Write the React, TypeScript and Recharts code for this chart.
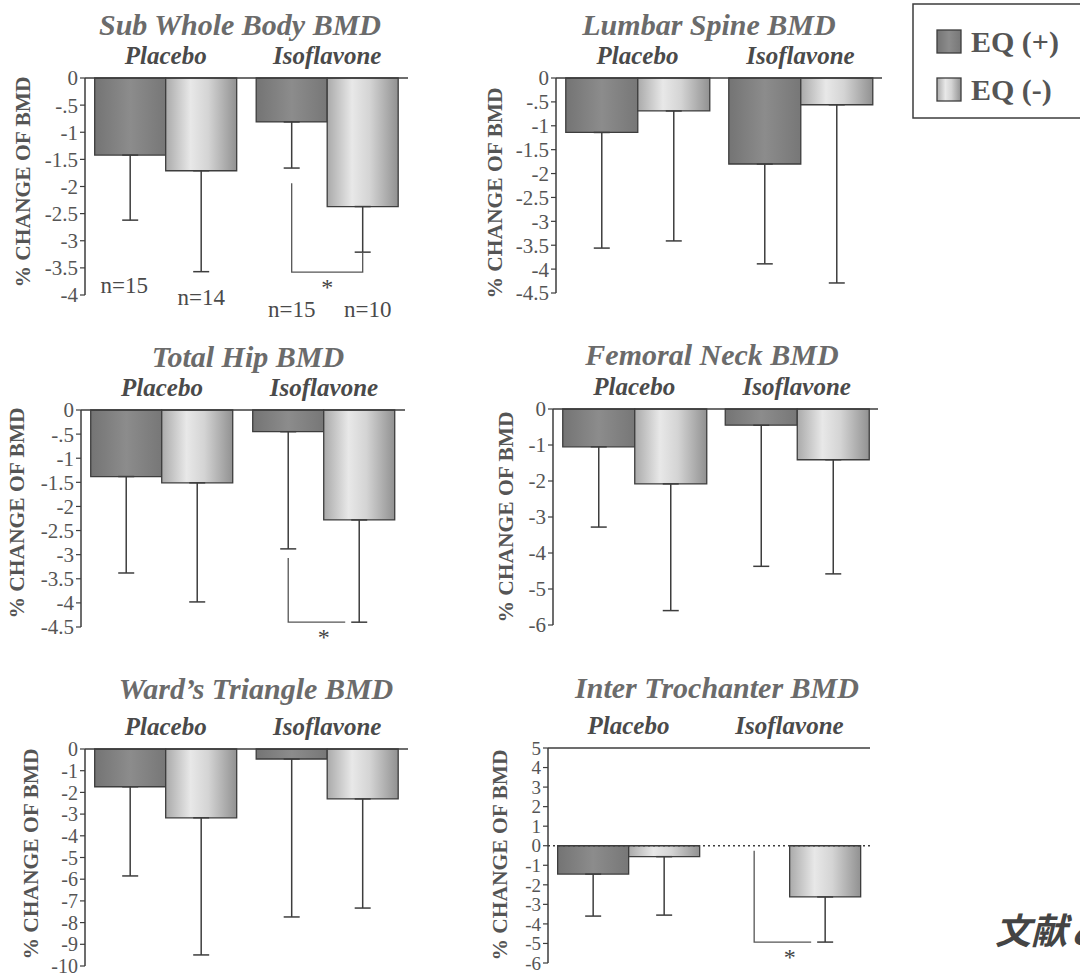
import React from "react";
import { BarChart, Bar, XAxis, YAxis, ErrorBar, ReferenceLine } from "recharts";

// groups on the x axis, two bars each: EQ (+) and EQ (-)
const GROUPS = ["Placebo", "Isoflavone"];
const SERIES = ["EQ (+)", "EQ (-)"];

// mean % change and SD (one-sided error bars), [Placebo, Isoflavone]
const wholeBodyPos = [-1.42, -0.81];
const wholeBodyNeg = [-1.71, -2.37];
const wholeBodyPosSd = [1.2, 0.85];
const wholeBodyNegSd = [1.86, 0.84];
const wholeBodyTicks = [0, -0.5, -1, -1.5, -2, -2.5, -3, -3.5, -4];
const wholeBodyN = ["n=15", "n=14", "n=15", "n=10"];

const lumbarPos = [-1.14, -1.8];
const lumbarNeg = [-0.69, -0.56];
const lumbarPosSd = [2.42, 2.09];
const lumbarNegSd = [2.72, 3.73];
const lumbarTicks = [0, -0.5, -1, -1.5, -2, -2.5, -3, -3.5, -4, -4.5];

const hipPos = [-1.38, -0.45];
const hipNeg = [-1.51, -2.28];
const hipPosSd = [2.0, 2.43];
const hipNegSd = [2.47, 2.12];
const hipTicks = [0, -0.5, -1, -1.5, -2, -2.5, -3, -3.5, -4, -4.5];

const neckPos = [-1.05, -0.45];
const neckNeg = [-2.08, -1.41];
const neckPosSd = [2.23, 3.92];
const neckNegSd = [3.52, 3.17];
const neckTicks = [0, -1, -2, -3, -4, -5, -6];

const wardPos = [-1.74, -0.46];
const wardNeg = [-3.17, -2.3];
const wardPosSd = [4.11, 7.28];
const wardNegSd = [6.32, 5.03];
const wardTicks = [0, -1, -2, -3, -4, -5, -6, -7, -8, -9, -10];

const trochPos = [-1.45, 0];
const trochNeg = [-0.56, -2.62];
const trochPosSd = [2.15, null];
const trochNegSd = [2.99, 2.31];
const trochTicks = [5, 4, 3, 2, 1, 0, -1, -2, -3, -4, -5, -6];

const INK = "#3d3d3d";
const SERIF = "'Liberation Serif', 'Times New Roman', serif";

type Bracket = { from: number; level: number; rise: number | null };
type PanelDef = {
  title: string;
  pos: number[];
  neg: number[];
  posSd: (number | null)[];
  negSd: (number | null)[];
  ticks: number[];
  bracket?: Bracket;
  nLabels?: string[];
  dotted?: boolean;
  tickFont: number;
  box: [number, number, number, number]; // plot area L T R B on the page
  titleAt: [number, number];
  labelAt: [number, number];
};

const PANELS: PanelDef[] = [
  {
    title: "Sub Whole Body BMD", pos: wholeBodyPos, neg: wholeBodyNeg, posSd: wholeBodyPosSd, negSd: wholeBodyNegSd,
    ticks: wholeBodyTicks, nLabels: wholeBodyN, bracket: { from: -1.94, level: -3.58, rise: -3.21 }, tickFont: 21,
    box: [85, 78, 408, 295], titleAt: [240, 35], labelAt: [30, 182],
  },
  {
    title: "Lumbar Spine BMD", pos: lumbarPos, neg: lumbarNeg, posSd: lumbarPosSd, negSd: lumbarNegSd,
    ticks: lumbarTicks, tickFont: 21, box: [556, 78, 882, 293], titleAt: [709, 35], labelAt: [502, 193],
  },
  {
    title: "Total Hip BMD", pos: hipPos, neg: hipNeg, posSd: hipPosSd, negSd: hipNegSd,
    ticks: hipTicks, bracket: { from: -3.07, level: -4.4, rise: null }, tickFont: 21,
    box: [81, 410, 405, 627], titleAt: [248, 367], labelAt: [24, 513],
  },
  {
    title: "Femoral Neck BMD", pos: neckPos, neg: neckNeg, posSd: neckPosSd, negSd: neckNegSd,
    ticks: neckTicks, tickFont: 21, box: [553, 409, 878, 625], titleAt: [712, 365], labelAt: [513, 517],
  },
  {
    title: "Ward\u2019s Triangle BMD", pos: wardPos, neg: wardNeg, posSd: wardPosSd, negSd: wardNegSd,
    ticks: wardTicks, tickFont: 20, box: [85, 749, 408, 966], titleAt: [256, 699], labelAt: [38, 854],
  },
  {
    title: "Inter Trochanter BMD", pos: trochPos, neg: trochNeg, posSd: trochPosSd, negSd: trochNegSd,
    ticks: trochTicks, bracket: { from: -0.26, level: -4.93, rise: null }, dotted: true, tickFont: 19,
    box: [548, 748, 870, 963], titleAt: [717, 698], labelAt: [507, 855],
  },
];

const fmtTick = (v: number) => (v === 0 ? "0" : String(v).replace("0.", "."));

function GroupTick(props: any) {
  const { x, y, payload } = props;
  return (
    <text x={x} y={y} textAnchor="middle" fontFamily={SERIF} fontWeight="bold" fontStyle="italic" fontSize={25} fill="#4a4a4a">
      {payload.value}
    </text>
  );
}

// labels drawn from each bar's geometry: n counts under the plot, significance bracket
function makeLabel(p: PanelDef, series: number, domMin: number) {
  return (props: any) => {
    const vb = props.viewBox ?? props;
    const { x, y, width, height } = vb;
    const index: number = props.index ?? 0;
    const v = series === 0 ? p.pos[index] : p.neg[index];
    if (!v || !height) return null;
    const ppu = Math.abs(height) / Math.abs(v);
    const zero = Math.min(y, y + height);
    const pix = (val: number) => zero - val * ppu;
    const cx = x + width / 2;
    const out: React.ReactNode[] = [];
    if (p.nLabels) {
      const k = index * 2 + series;
      const dy = [-2, 10, 22, 22][k];
      const dx = [-6, 0, 0, 5][k];
      out.push(
        <text key="n" x={cx + dx} y={pix(domMin) + dy} textAnchor="middle" fontFamily={SERIF} fontSize={23} fill="#4a4a4a">
          {p.nLabels[k]}
        </text>
      );
    }
    if (p.bracket && series === 1 && index === 1) {
      const b = p.bracket;
      const left = cx - width;
      const yl = pix(b.level);
      const d =
        b.rise != null
          ? `M${left},${pix(b.from)} V${yl} H${cx} V${pix(b.rise)}`
          : `M${left},${pix(b.from)} V${yl} H${cx - 14}`;
      out.push(<path key="br" d={d} fill="none" stroke="#555" strokeWidth={1.3} />);
      out.push(
        <text key="st" x={(left + cx) / 2} y={yl + 23} textAnchor="middle" fontFamily={SERIF} fontSize={24} fill="#444">
          *
        </text>
      );
    }
    return <g>{out}</g>;
  };
}

function Panel({ p }: { p: PanelDef }) {
  const [L, T, R, B] = p.box;
  const YW = 80, MT = 40, MR = 12, MB = 36;
  const data = GROUPS.map((g, i) => ({
    group: g,
    eqPos: p.pos[i],
    eqNeg: p.neg[i],
    errPos: p.posSd[i] == null ? null : [p.posSd[i], 0],
    errNeg: p.negSd[i] == null ? null : [p.negSd[i], 0],
  }));
  const domMin = Math.min(...p.ticks);
  const domMax = Math.max(...p.ticks);
  return (
    <div style={{ position: "absolute", left: L - YW, top: T - MT }}>
      <BarChart
        width={R - L + YW + MR}
        height={B - T + MT + MB}
        data={data}
        margin={{ top: MT - 1, right: MR, bottom: MB, left: 0 }}
        barGap={0}
        barCategoryGap="6%"
      >
        <XAxis
          dataKey="group"
          orientation="top"
          height={1}
          tickSize={0}
          tickMargin={14}
          tickLine={false}
          interval={0}
          axisLine={{ stroke: INK, strokeWidth: 1.5 }}
          tick={(t: any) => <GroupTick {...t} />}
        />
        <YAxis
          type="number"
          domain={[domMin, domMax]}
          ticks={p.ticks}
          interval={0}
          width={YW}
          tickSize={5}
          tickMargin={2}
          tickFormatter={fmtTick}
          axisLine={{ stroke: INK, strokeWidth: 1.5 }}
          tickLine={{ stroke: INK, strokeWidth: 1.2 }}
          tick={{ fontFamily: SERIF, fontSize: p.tickFont, fill: "#555" }}
        />
        {p.dotted && <ReferenceLine y={0} stroke={INK} strokeWidth={1.5} strokeDasharray="2 3" />}
        <Bar dataKey="eqPos" name={SERIES[0]} fill="url(#gEqPos)" stroke={INK} strokeWidth={1.3} isAnimationActive={false} label={makeLabel(p, 0, domMin)}>
          <ErrorBar dataKey="errPos" direction="y" width={8} stroke={INK} strokeWidth={1.5} />
        </Bar>
        <Bar dataKey="eqNeg" name={SERIES[1]} fill="url(#gEqNeg)" stroke={INK} strokeWidth={1.3} isAnimationActive={false} label={makeLabel(p, 1, domMin)}>
          <ErrorBar dataKey="errNeg" direction="y" width={8} stroke={INK} strokeWidth={1.5} />
        </Bar>
      </BarChart>
    </div>
  );
}

export default function App() {
  return (
    <div style={{ position: "absolute", left: 0, top: 0, width: 1080, height: 977, overflow: "hidden", background: "#fff" }}>
      {PANELS.map((p) => (
        <Panel key={p.title} p={p} />
      ))}
      <svg width={1080} height={977} style={{ position: "absolute", left: 0, top: 0, pointerEvents: "none" }}>
        <defs>
          <linearGradient id="gEqPos" x1="0" y1="0" x2="1" y2="0">
            <stop offset="0%" stopColor="#747474" />
            <stop offset="50%" stopColor="#8c8c8c" />
            <stop offset="100%" stopColor="#777" />
          </linearGradient>
          <linearGradient id="gEqNeg" x1="0" y1="0" x2="1" y2="0">
            <stop offset="0%" stopColor="#aaa" />
            <stop offset="35%" stopColor="#e8e8e8" />
            <stop offset="60%" stopColor="#d4d4d4" />
            <stop offset="100%" stopColor="#919191" />
          </linearGradient>
        </defs>
        {PANELS.map((p) => (
          <g key={p.title}>
            <text x={p.titleAt[0]} y={p.titleAt[1]} textAnchor="middle" fontFamily={SERIF} fontWeight="bold" fontStyle="italic" fontSize={30} fill="#6b6b6b">
              {p.title}
            </text>
            <text
              x={p.labelAt[0]}
              y={p.labelAt[1]}
              transform={`rotate(-90 ${p.labelAt[0]} ${p.labelAt[1]})`}
              textAnchor="middle"
              fontFamily={SERIF}
              fontWeight="bold"
              fontSize={21.5}
              fill="#555"
            >
              % CHANGE OF BMD
            </text>
          </g>
        ))}
        <rect x={913} y={4} width={200} height={114} fill="none" stroke={INK} strokeWidth={1.5} />
        <rect x={937} y={30} width={24} height={23} fill="url(#gEqPos)" stroke={INK} strokeWidth={1.3} />
        <text x={971} y={52} fontFamily={SERIF} fontWeight="bold" fontSize={30} fill="#555">{SERIES[0]}</text>
        <rect x={937} y={78} width={24} height={23} fill="url(#gEqNeg)" stroke={INK} strokeWidth={1.3} />
        <text x={971} y={100} fontFamily={SERIF} fontWeight="bold" fontSize={30} fill="#555">{SERIES[1]}</text>
        <text x={995} y={944} fontFamily="'Noto Sans CJK JP', sans-serif" fontWeight="bold" fontStyle="italic" fontSize={36} fill="#444">
          文献と
        </text>
      </svg>
    </div>
  );
}
